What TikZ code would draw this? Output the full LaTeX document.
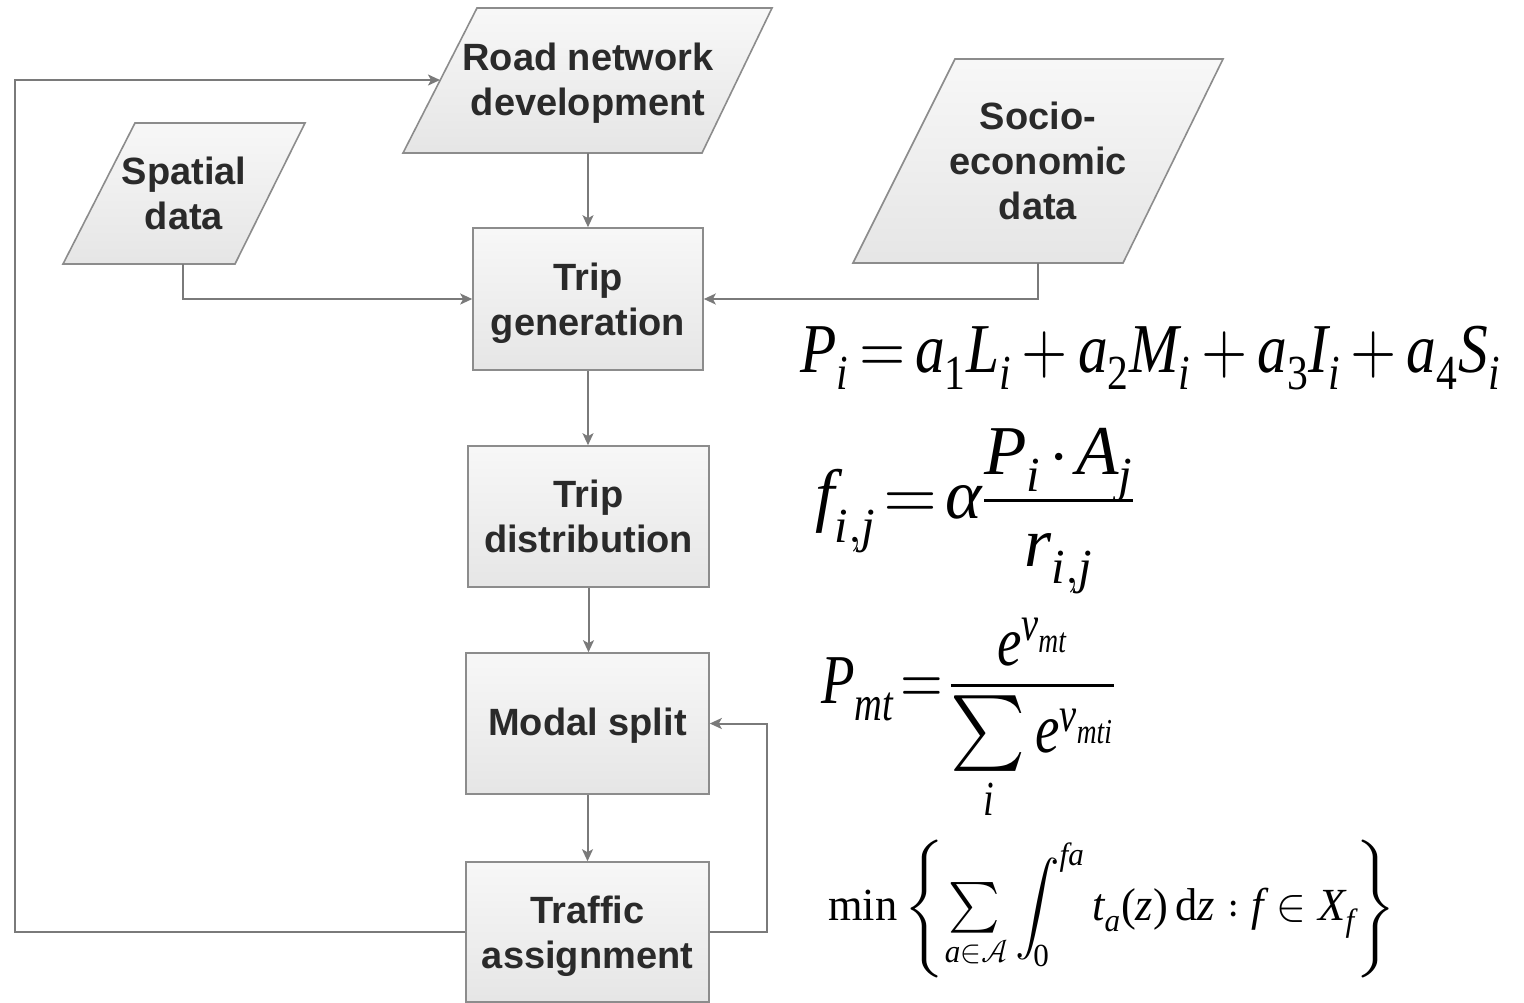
\documentclass[tikz,border=0pt]{standalone}
\usepackage{amsmath}
\usepackage{fontspec}
\usepackage{unicode-math}
\setmainfont{Liberation Sans}
\newfontfamily\tnrfont{Liberation Serif}
\usetikzlibrary{arrows.meta,calc}
\newcommand\tvi[1]{\text{\tnrfont\itshape #1}}
\newcommand\tvr[1]{\text{\tnrfont\upshape #1}}
\newcommand\tightsp{\thickmuskip=2mu\relax\medmuskip=2mu\relax}
\newcommand\midsp{\thickmuskip=3mu\relax\medmuskip=3mu\relax}
\newsavebox\eqbox
\newdimen\eqwd
\newcommand\fitto[2]{\sbox\eqbox{#2}\eqwd=\wd\eqbox\relax\pgfmathsetmacro\eqfac{#1/\eqwd}\scalebox{\eqfac}[1]{\usebox\eqbox}}
\definecolor{boxline}{HTML}{8C8C8C}
\definecolor{arrcol}{HTML}{7A7A7A}
\definecolor{txtcol}{HTML}{2A2A2A}
\tikzset{
  boxfill/.style={draw=boxline, line width=0.8pt, top color=white!97!black, bottom color=white!90!black},
  procbox/.style={boxfill, rectangle, inner sep=0pt},
  lbl/.style={font=\bfseries\fontsize{19}{22.5}\selectfont, text=txtcol, align=center, inner sep=0pt},
  conn/.style={draw=arrcol, line width=1pt, -{Stealth[length=6pt,width=5.5pt,inset=1.5pt]}},
  eqn/.style={inner sep=0pt, font=\fontsize{35}{40}\selectfont},
  eqsmall/.style={inner sep=0pt, font=\fontsize{23}{28}\selectfont}
}
\begin{document}
\begin{tikzpicture}[x=0.5pt,y=-0.5pt]
\useasboundingbox[fill=white] (0,0) rectangle (1524,1002);

% data parallelograms
\path[boxfill] (477,8) -- (772,8) -- (702,153) -- (403,153) -- cycle;
\node[lbl] (rn) at (588,83) {Road network\\development};
\path[boxfill] (135,123) -- (305,123) -- (235,264) -- (63,264) -- cycle;
\node[lbl] (sp) at (184,193) {Spatial\\data};
\path[boxfill] (955,59) -- (1223,59) -- (1123,263) -- (853,263) -- cycle;
\node[lbl] (se) at (1038,161) {Socio-\\economic\\data};

\coordinate (rnb) at (588,153);
\coordinate (rnl) at (440,80);
\coordinate (spb) at (183,264);
\coordinate (seb) at (1038,263);

% process boxes
\node[procbox, minimum width=115pt, minimum height=71pt] (tg) at (588,299) {};
\node[lbl] (tgt) at ($(tg.center)+(0,4)$) {Trip\\generation};
\node[procbox, minimum width=120.5pt, minimum height=70.5pt] (td) at (588.5,516.5) {};
\node[lbl] (tdt) at (td.center) {Trip\\distribution};
\node[procbox, minimum width=121.5pt, minimum height=70.5pt] (ms) at (587.5,723.5) {};
\node[lbl] (mst) at ($(ms.center)+(0,2)$) {Modal split};
\node[procbox, minimum width=121.5pt, minimum height=70pt] (ta) at (587.5,932) {};
\node[lbl] (tat) at ($(ta.center)+(0,4)$) {Traffic\\assignment};

% connectors
\draw[conn] (rnb) -- (rnb |- tg.north);
\draw[conn] (spb) |- (tg.west);
\draw[conn] (seb) |- (tg.east);
\draw[conn] (tg.south) -- (tg.south |- td.north);
\draw[conn] (td.south) -- (td.south |- ms.north);
\draw[conn] (ms.south) -- (ms.south |- ta.north);
\coordinate (loopL) at (15,80);
\draw[conn] (ta.west) -| (loopL) -- (rnl);
\coordinate (loopR) at (767,932);
\draw[conn] (ta.east) -- (loopR) |- (ms.east);

% equations
\node[eqn, anchor=base west] (e1) at (800,372)
 {\fitto{350pt}{$\midsp\tvi{P}_{\tvi{i}} = \tvi{a}_{\tvr{1}}\tvi{L}_{\tvi{i}} + \tvi{a}_{\tvr{2}}\tvi{M}_{\tvi{i}} + \tvi{a}_{\tvr{3}}\tvi{I}_{\tvi{i}} + \tvi{a}_{\tvr{4}}\tvi{S}_{\tvi{i}}$}};
\node[eqn, anchor=base west] (e2) at (815,518)
 {\fitto{160pt}{$\tightsp\tvi{f}_{\tvi{i},\tvi{j}} = \tvi{α}\dfrac{\raisebox{-2pt}[24pt][0pt]{$\tvi{P}_{\tvi{i}}\cdot \tvi{A}_{\tvi{j}}$}}{\tvi{r}_{\tvi{i},\tvi{j}}}$}};
\node[eqn, anchor=base west] (e3) at (821,703)
 {\fitto{147pt}{$\tightsp\tvi{P}_{\tvi{mt}} = \dfrac{\raisebox{-5pt}[24pt][0pt]{$\tvi{e}^{\tvi{v}_{\tvi{mt}}}$}}{\mathop{\scalebox{1.3}[1.08]{$\textstyle\sum$}}\limits_{\tvi{i}}\tvi{e}^{\tvi{v}_{\tvi{mti}}}}$}};
\node[eqsmall, anchor=base west] (e4) at (828,920)
 {\fitto{283.5pt}{$\displaystyle \tvr{min}\left\{\mathop{\scalebox{1.1}{$\textstyle\sum$}}\limits_{\tvi{a}\in\mathcal{A}}\int_{\tvr{0}}^{\tvi{fa}} \tvi{t}_{\tvi{a}}\tvr{(}\tvi{z}\tvr{)}\,\tvr{d}\tvi{z} : \tvi{f}\in \tvi{X}_{\tvi{f}}\right\}$}};
\end{tikzpicture}
\end{document}
